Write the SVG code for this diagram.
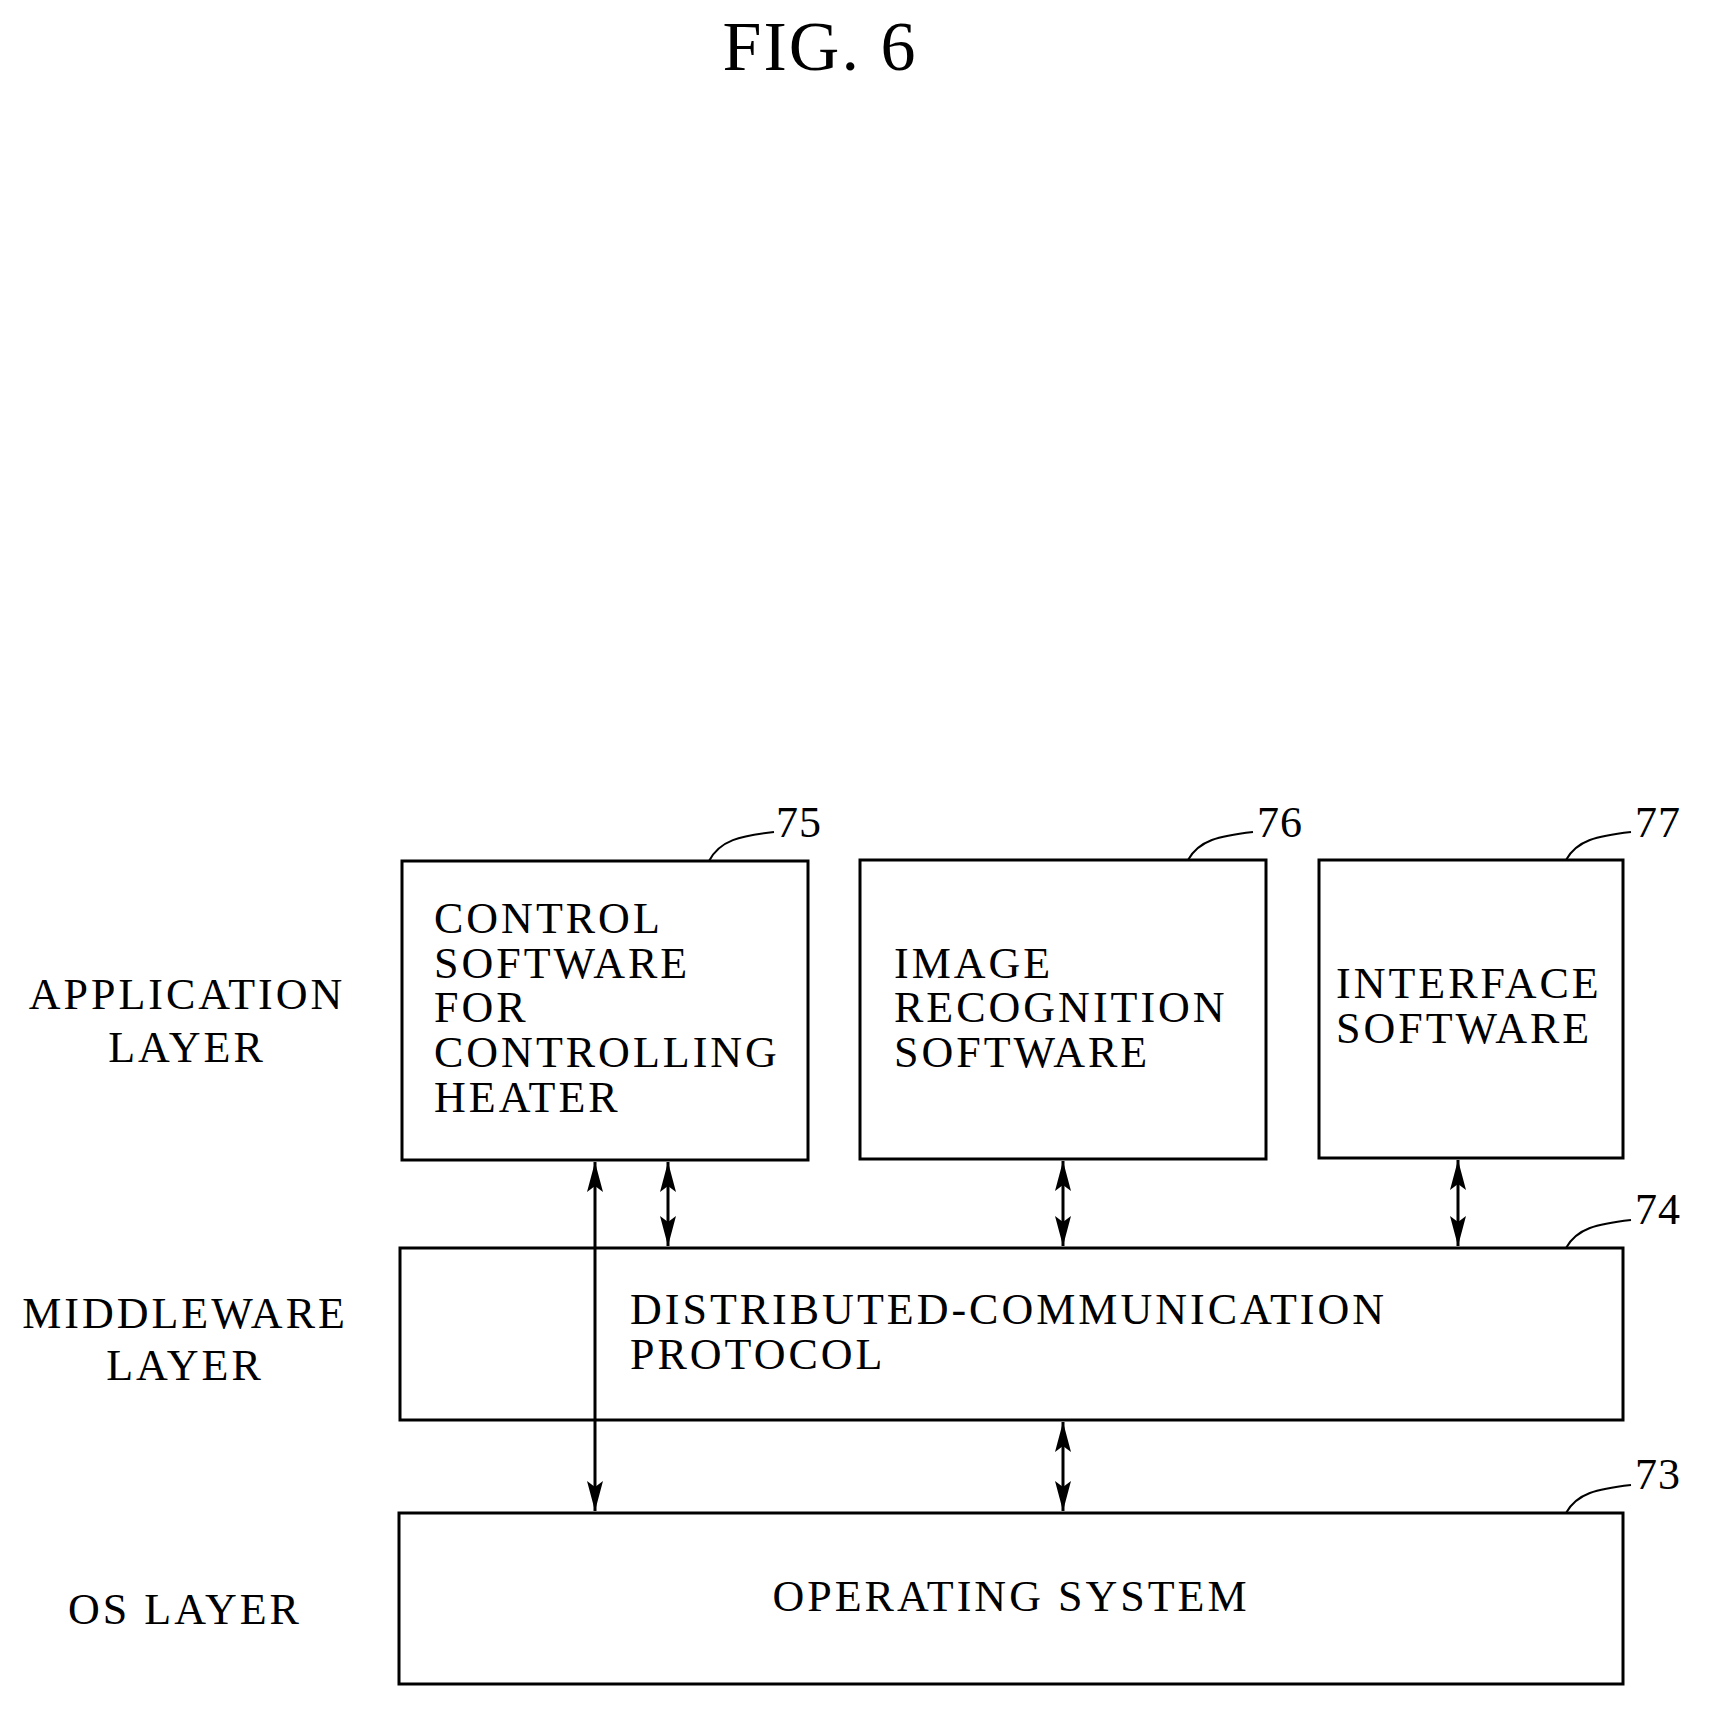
<svg xmlns="http://www.w3.org/2000/svg" width="1709" height="1713" viewBox="0 0 1709 1713">
<style>
text{font-family:"Liberation Serif",serif;font-size:44px;letter-spacing:3px;fill:#000}
.t{font-size:70px;letter-spacing:2px}
.n{letter-spacing:1px}
.b{fill:#fff;stroke:#000;stroke-width:3}
.l{fill:none;stroke:#000;stroke-width:2}
.c{stroke:#000;stroke-width:3;fill:none}
</style>
<defs>
<marker id="m" viewBox="0 0 30 16" refX="30" refY="8" markerWidth="30" markerHeight="16" orient="auto-start-reverse" markerUnits="userSpaceOnUse">
<path d="M0,0 L30,8 L0,16 L6,8 Z" fill="#000"/>
</marker>
</defs>
<rect width="1709" height="1713" fill="#fff"/>
<text class="t" x="820" y="70" text-anchor="middle">FIG. 6</text>
<g id="labels">
<text x="187" y="1009" text-anchor="middle">APPLICATION</text>
<text x="187" y="1062" text-anchor="middle">LAYER</text>
<text x="185" y="1328" text-anchor="middle">MIDDLEWARE</text>
<text x="185" y="1380" text-anchor="middle">LAYER</text>
<text x="185" y="1624" text-anchor="middle">OS LAYER</text>
</g>
<g id="n75">
<rect class="b" x="402" y="861" width="406" height="299"/>
<text x="434" y="933">CONTROL</text><text x="434" y="978">SOFTWARE</text><text x="434" y="1022">FOR</text><text x="434" y="1067">CONTROLLING</text><text x="434" y="1112">HEATER</text>
<path class="l" d="M709,861 C720,840 740,836 774,832"/><text class="n" x="776" y="837">75</text>
</g>
<g id="n76">
<rect class="b" x="860" y="860" width="406" height="299"/>
<text x="894" y="978">IMAGE</text><text x="894" y="1022">RECOGNITION</text><text x="894" y="1067">SOFTWARE</text>
<path class="l" d="M1188,860 C1199,840 1219,836 1253,832"/><text class="n" x="1257" y="837">76</text>
</g>
<g id="n77">
<rect class="b" x="1319" y="860" width="304" height="298"/>
<text x="1336" y="998">INTERFACE</text><text x="1336" y="1043">SOFTWARE</text>
<path class="l" d="M1566,860 C1577,840 1597,836 1631,832"/><text class="n" x="1635" y="837">77</text>
</g>
<g id="n74">
<rect class="b" x="400" y="1248" width="1223" height="172"/>
<text x="630" y="1324">DISTRIBUTED-COMMUNICATION</text><text x="630" y="1369">PROTOCOL</text>
<path class="l" d="M1566,1248 C1577,1228 1597,1224 1631,1220"/><text class="n" x="1635" y="1224">74</text>
</g>
<g id="n73">
<rect class="b" x="399" y="1513" width="1224" height="171"/>
<text x="1011" y="1611" text-anchor="middle">OPERATING SYSTEM</text>
<path class="l" d="M1566,1513 C1577,1493 1597,1489 1631,1485"/><text class="n" x="1635" y="1489">73</text>
</g>
<g id="connectors">
<line class="c" x1="595" y1="1162" x2="595" y2="1511" marker-start="url(#m)" marker-end="url(#m)"/>
<line class="c" x1="668" y1="1162" x2="668" y2="1246" marker-start="url(#m)" marker-end="url(#m)"/>
<line class="c" x1="1063" y1="1161" x2="1063" y2="1246" marker-start="url(#m)" marker-end="url(#m)"/>
<line class="c" x1="1458" y1="1160" x2="1458" y2="1246" marker-start="url(#m)" marker-end="url(#m)"/>
<line class="c" x1="1063" y1="1422" x2="1063" y2="1511" marker-start="url(#m)" marker-end="url(#m)"/>
</g>
</svg>
